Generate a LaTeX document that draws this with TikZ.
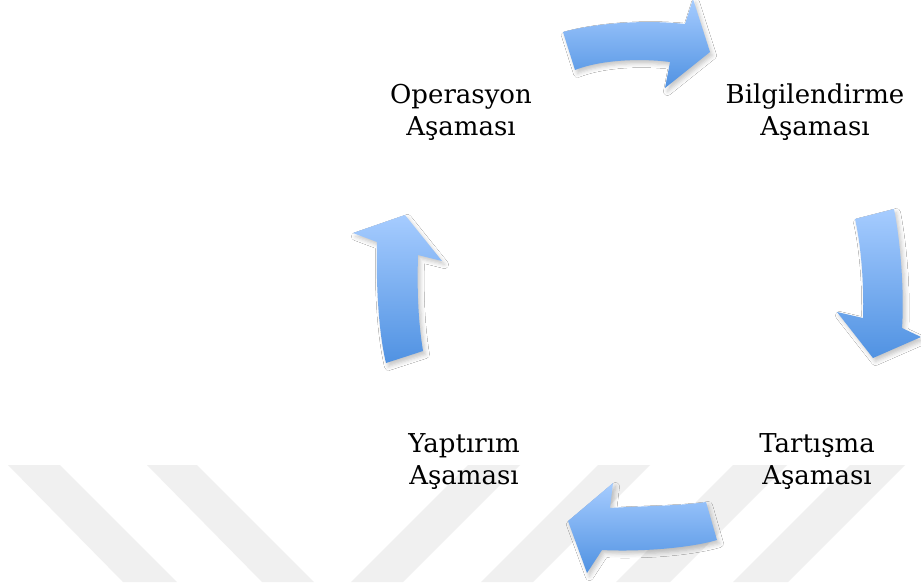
\documentclass[tikz,border=0pt]{standalone}
\usepackage{fontspec}
\setmainfont{DejaVu Serif}
\usetikzlibrary{shadows.blur}
\definecolor{arrowtop}{RGB}{166,204,255}
\definecolor{arrowbot}{RGB}{80,146,226}
\definecolor{wmark}{RGB}{240,240,240}
\tikzset{
  cyclearrow/.style={top color=arrowtop, bottom color=arrowbot, draw=none,
    blur shadow={shadow xshift=2.5pt, shadow yshift=-3.5pt, shadow opacity=22, shadow blur radius=4pt}},
  wstripe/.style={fill=wmark, draw=none},
  stage/.style={font=\fontsize{26}{32}\selectfont, align=center, inner sep=0pt, text=black}
}
\begin{document}
\begin{tikzpicture}[x=1pt,y=-1pt]
\useasboundingbox (0,0) rectangle (921,582);
\fill[white] (0,0) rectangle (921,582);
% watermark stripes
\fill[wstripe] (8,465) -- (60,465) -- (177,582) -- (123,582) -- cycle;
\fill[wstripe] (147,465) -- (197,465) -- (314,582) -- (262,582) -- cycle;
\fill[wstripe] (468,465) -- (520,465) -- (403,582) -- (351,582) -- cycle;
\fill[wstripe] (598,465) -- (650,465) -- (533,582) -- (481,582) -- cycle;
\fill[wstripe] (733,465) -- (787,465) -- (670,582) -- (616,582) -- cycle;
\fill[wstripe] (850,465) -- (905,465) -- (788,582) -- (733,582) -- cycle;
% stage labels
\node[stage] (op) at (461,112) {Operasyon\\Aşaması};
\node[stage] (bi) at (815,112) {Bilgilendirme\\Aşaması};
\node[stage] (ta) at (817,462) {Tartışma\\Aşaması};
\node[stage] (ya) at (464,462) {Yaptırım\\Aşaması};
% arrows
\path[cyclearrow] (563,32) .. controls (600,22) and (650,20) .. (685,24) -- (693,-1) -- (710,52) -- (665,88) -- (670,62) .. controls (640,58) and (600,60) .. (575,70) -- cycle;
\path[cyclearrow] (855,219) -- (894,209) .. controls (902,250) and (904,300) .. (902,328) -- (921,337) -- (873,358) -- (837,312) -- (863,318) .. controls (864,290) and (862,250) .. (855,219) -- cycle;
\path[cyclearrow] (706,502) -- (717,540) .. controls (690,548) and (640,552) .. (602,550) -- (587,573) -- (568,521) -- (613,483) -- (610,508) .. controls (640,506) and (680,506) .. (706,502) -- cycle;
\path[cyclearrow] (386,363) .. controls (378,330) and (376,280) .. (377,242) -- (353,233) -- (405,215) -- (442,261) -- (418,255) .. controls (417,290) and (418,320) .. (423,351) -- cycle;
\end{tikzpicture}
\end{document}
